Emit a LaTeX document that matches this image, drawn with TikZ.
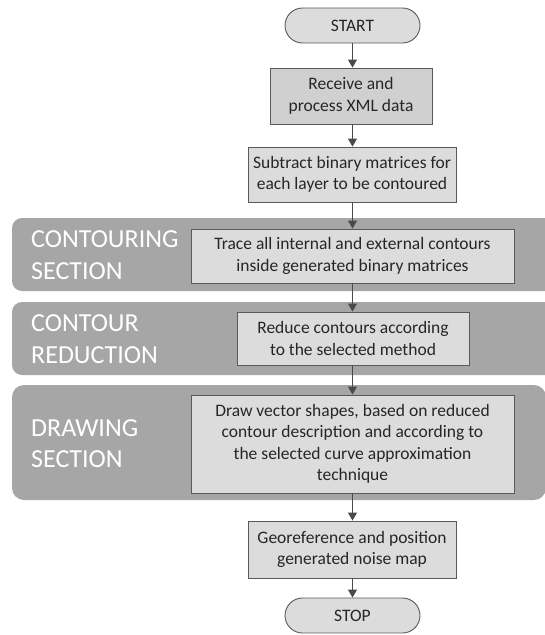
\documentclass[tikz,border=0pt]{standalone}
\usepackage{fontspec}
\setmainfont{Carlito}
\usetikzlibrary{arrows.meta,shapes.misc}
\definecolor{bandgray}{HTML}{A6A6A6}
\definecolor{boxfill}{HTML}{DCDCDC}
\definecolor{boxfilldark}{HTML}{D0D0D0}
\definecolor{edgegray}{HTML}{5A5A5A}
\definecolor{arrowgray}{HTML}{4A4A4A}
\tikzset{
  procbox/.style={draw=edgegray, line width=0.9pt, fill=boxfill, align=center,
    inner sep=0pt, font=\fontsize{17.5}{21.5}\selectfont, text=black!85},
  termbox/.style={procbox, rounded rectangle, minimum width=135pt, minimum height=35pt},
  bandlabel/.style={anchor=base west, inner sep=0pt, text=white,
    font=\fontsize{26}{32}\selectfont},
  flow/.style={draw=arrowgray, line width=0.9pt, -{Triangle[width=9pt,length=8pt]}},
}
\begin{document}
\begin{tikzpicture}[x=1pt,y=-1pt]
\useasboundingbox (0,0) rectangle (545,635);
\clip (0,0) rectangle (545,635);
% bands
\fill[bandgray, rounded corners=10pt] (12,218) rectangle (570,291);
\fill[bandgray, rounded corners=10pt] (12,302) rectangle (570,375);
\fill[bandgray, rounded corners=12pt] (12,385) rectangle (546,500);
\node[bandlabel] (l1a) at (31,247) {CONTOURING};
\node[bandlabel] (l1b) at (31,279) {SECTION};
\node[bandlabel] (l2a) at (31,331) {CONTOUR};
\node[bandlabel] (l2b) at (31,363) {REDUCTION};
\node[bandlabel] (l3a) at (31,436) {DRAWING};
\node[bandlabel] (l3b) at (31,467) {SECTION};
% nodes
\node[termbox] (start) at (352.5,25.5) {START};
\node[procbox, fill=boxfilldark, minimum width=162pt, minimum height=56pt] (recv) at (351,96)
  {Receive and\\process XML data};
\node[procbox, minimum width=208pt, minimum height=55pt] (sub) at (352,174.5)
  {Subtract binary matrices for\\each layer to be contoured};
\node[procbox, minimum width=323pt, minimum height=54pt] (trace) at (352.5,256)
  {Trace all internal and external contours\\inside generated binary matrices};
\node[procbox, minimum width=232pt, minimum height=53pt] (reduce) at (353,338.5)
  {Reduce contours according\\to the selected method};
\node[procbox, minimum width=323pt, minimum height=98pt] (drawv) at (352.5,444)
  {Draw vector shapes, based on reduced\\contour description and according to\\the selected curve approximation\\technique};
\node[procbox, minimum width=208pt, minimum height=57pt] (geo) at (352,549.5)
  {Georeference and position\\generated noise map};
\node[termbox] (stop) at (352.5,615.5) {STOP};
% connectors
\draw[flow] (start.south) -- (start.south |- recv.north);
\draw[flow] (recv.south -| start.south) -- (start.south |- sub.north);
\draw[flow] (sub.south -| start.south) -- (start.south |- trace.north);
\draw[flow] (trace.south -| start.south) -- (start.south |- reduce.north);
\draw[flow] (reduce.south -| start.south) -- (start.south |- drawv.north);
\draw[flow] (drawv.south -| start.south) -- (start.south |- geo.north);
\draw[flow] (geo.south -| start.south) -- (stop.north);
\end{tikzpicture}
\end{document}
